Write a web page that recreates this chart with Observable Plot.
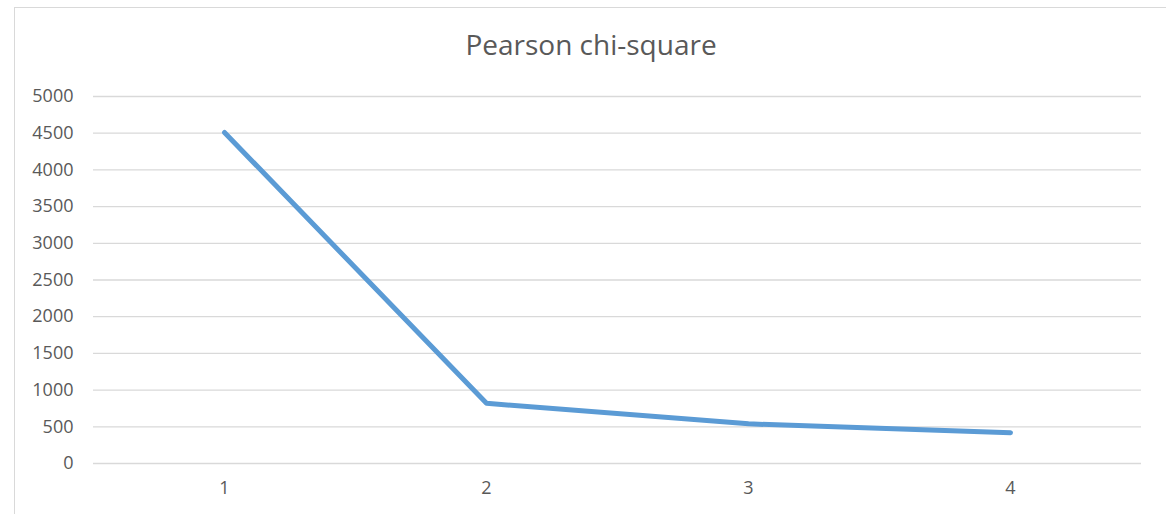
<!DOCTYPE html>
<html>
<head>
<meta charset="utf-8">
<script src="https://cdn.jsdelivr.net/npm/d3@7"></script>
<script src="https://cdn.jsdelivr.net/npm/@observablehq/plot@0.6"></script>
<style>
  html, body { margin: 0; padding: 0; background: #fff; }
  #wrap { position: relative; width: 1166px; height: 514px; overflow: hidden; font-family: "Open Sans", sans-serif; }
  #frame { position: absolute; left: 14px; top: 7px; width: 1170px; height: 520px; border: 1px solid #d9d9d9; box-sizing: border-box; }
  #title { position: absolute; left: 14px; width: 1154px; top: 26px; text-align: center; font-size: 28px; color: #595959; line-height: 36px; }
  #chart { position: absolute; left: 0; top: 0; }
</style>
</head>
<body>
<div id="wrap">
  <div id="frame"></div>
  <div id="title">Pearson chi-square</div>
  <div id="chart"></div>
</div>
<script>
const categories = [1, 2, 3, 4];
const chiSquare = [4510, 820, 540, 420];
const yTicks = [0, 500, 1000, 1500, 2000, 2500, 3000, 3500, 4000, 4500, 5000];

const data = categories.map((c, i) => ({ cat: c, value: chiSquare[i] }));

const chart = Plot.plot({
  width: 1166,
  height: 514,
  marginLeft: 93,
  marginRight: 25,
  marginTop: 96,
  marginBottom: 51,
  style: { fontFamily: "Open Sans, sans-serif", fontSize: "18px", color: "#595959", background: "transparent", overflow: "visible" },
  x: { type: "band", domain: categories, padding: 0, label: null },
  y: { domain: [0, 5000], label: null },
  marks: [
    Plot.gridY(yTicks, { stroke: "#d9d9d9", strokeOpacity: 1, strokeWidth: 1.3 }),
    Plot.axisY(yTicks, { tickSize: 0, tickPadding: 20, fontSize: 18, fill: "#595959", label: null, tickFormat: d => String(d) }),
    Plot.axisX({ tickSize: 0, tickPadding: 18, fontSize: 18, fill: "#595959", label: null, tickFormat: d => String(d) }),
    Plot.line(data, { x: "cat", y: "value", stroke: "#5b9bd5", strokeWidth: 5, strokeLinecap: "round", strokeLinejoin: "round" })
  ]
});
document.getElementById("chart").appendChild(chart);
</script>
</body>
</html>
